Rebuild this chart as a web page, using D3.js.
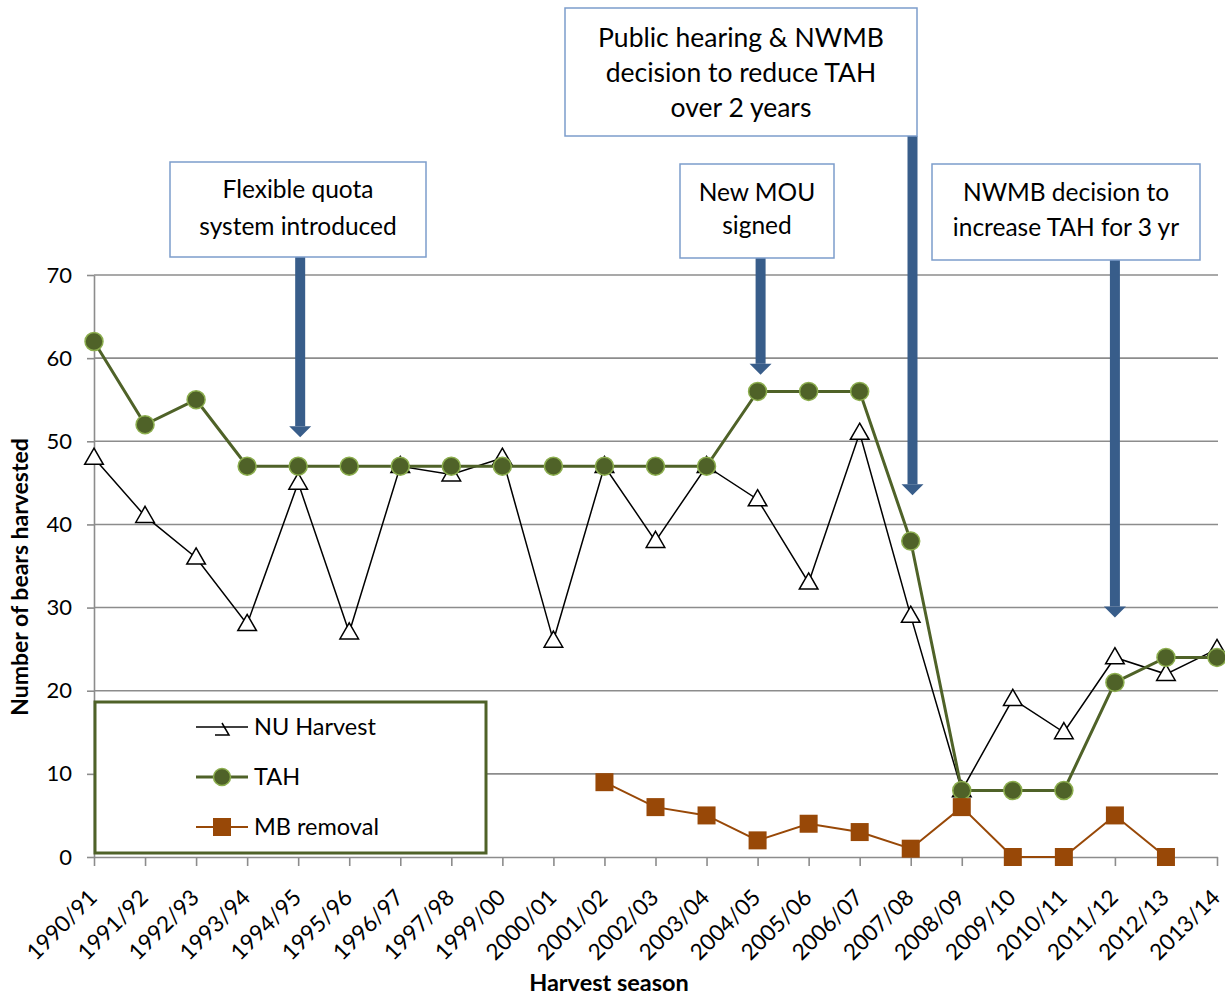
<!DOCTYPE html>
<html><head><meta charset="utf-8">
<script src="https://cdn.jsdelivr.net/npm/d3@7"></script>
<style>body{margin:0;background:#fff}svg{display:block}text{font-family:Lato,"Open Sans",sans-serif}</style>
</head><body><svg id="c" width="1225" height="998"></svg>
<script>
const categories = ["1990/91","1991/92","1992/93","1993/94","1994/95","1995/96","1996/97","1997/98","1999/00","2000/01","2001/02","2002/03","2003/04","2004/05","2005/06","2006/07","2007/08","2008/09","2009/10","2010/11","2011/12","2012/13","2013/14"];
const nuHarvest = [48,41,36,28,45,27,47,46,48,26,47,38,47,43,33,51,29,8,19,15,24,22,25];
const tah = [62,52,55,47,47,47,47,47,47,47,47,47,47,56,56,56,38,8,8,8,21,24,24];
const mbRemoval = [null,null,null,null,null,null,null,null,null,null,9,6,5,2,4,3,1,6,0,0,5,0,null];
const yTicks = [0,10,20,30,40,50,60,70];
const annotations = [
  {lines:["Flexible quota","system introduced"], cat:"1994/95", tipValue:50.5},
  {lines:["New MOU","signed"], cat:"2004/05", tipValue:58},
  {lines:["Public hearing & NWMB","decision to reduce TAH","over 2 years"], cat:"2007/08", tipValue:43.5},
  {lines:["NWMB decision to","increase TAH for 3 yr"], cat:"2011/12", tipValue:28.8}
];

const svg = d3.select("#c");
const x = d3.scalePoint().domain(categories).range([94,1217]);
const y = d3.scaleLinear().domain([0,70]).range([857,275]);

// gridlines
svg.append("g").selectAll("line").data(yTicks.filter(d=>d>0)).join("line")
  .attr("x1",94).attr("x2",1218).attr("y1",d=>y(d)).attr("y2",d=>y(d))
  .attr("stroke","#8c8c8c").attr("stroke-width",1.6);

// axes
const gx = svg.append("g").attr("transform","translate(0,857)")
  .call(d3.axisBottom(x).tickSize(9).tickSizeOuter(0));
gx.select(".domain").attr("stroke","#8c8c8c").attr("stroke-width",1.6).attr("d","M94,0.5H1218");
gx.selectAll(".tick line").attr("stroke","#8c8c8c").attr("stroke-width",1.6);
gx.selectAll(".tick text").attr("font-size",22.5).attr("fill","#000")
  .attr("text-anchor","end").attr("x",0).attr("y",0).attr("dy","0")
  .attr("transform","translate(4,42) rotate(-45)");

const gy = svg.append("g").attr("transform","translate(94,0)")
  .call(d3.axisLeft(y).tickValues(yTicks).tickSize(7).tickSizeOuter(0).tickPadding(15));
gy.select(".domain").attr("stroke","#8c8c8c").attr("stroke-width",1.6);
gy.selectAll(".tick line").attr("stroke","#8c8c8c").attr("stroke-width",1.6);
gy.selectAll(".tick text").attr("font-size",22).attr("fill","#000");

svg.append("text").attr("x",609).attr("y",991).attr("text-anchor","middle")
  .attr("font-size",23.5).attr("font-weight","bold").text("Harvest season");
svg.append("text").attr("transform","translate(28,577) rotate(-90)").attr("text-anchor","middle")
  .attr("font-size",23).attr("font-weight","bold").text("Number of bears harvested");

// series
const nuData = categories.map((c,i)=>({c,v:nuHarvest[i]}));
const tahData = categories.map((c,i)=>({c,v:tah[i]}));
const mbData = categories.map((c,i)=>({c,v:mbRemoval[i]})).filter(d=>d.v!==null);
const line = d3.line().x(d=>x(d.c)).y(d=>y(d.v));

svg.append("path").attr("d",line(nuData)).attr("fill","none").attr("stroke","#000").attr("stroke-width",1.5);
const tri = d3.symbol().type(d3.symbolTriangle).size(150);
svg.append("g").selectAll("path").data(nuData).join("path")
  .attr("d",tri).attr("transform",d=>`translate(${x(d.c)},${y(d.v)+1})`)
  .attr("fill","#fff").attr("stroke","#000").attr("stroke-width",1.5);

svg.append("path").attr("d",line(tahData)).attr("fill","none").attr("stroke","#4f6228").attr("stroke-width",3);
svg.append("g").selectAll("circle").data(tahData).join("circle")
  .attr("cx",d=>x(d.c)).attr("cy",d=>y(d.v)).attr("r",9)
  .attr("fill","#4f6228").attr("stroke","#8cae4e").attr("stroke-width",1.5);

svg.append("path").attr("d",line(mbData)).attr("fill","none").attr("stroke","#984807").attr("stroke-width",2);
svg.append("g").selectAll("rect").data(mbData).join("rect")
  .attr("x",d=>x(d.c)-9).attr("y",d=>y(d.v)-9).attr("width",18).attr("height",18)
  .attr("fill","#984807");

// annotations
const boxes = [
  {x0:170,x1:426,y0:162,y1:257,fs:24.5,base:[198,235]},
  {x0:680,x1:834,y0:164,y1:258,fs:24.5,base:[201,234]},
  {x0:565,x1:917,y0:8,y1:136,fs:26.5,base:[47,82,117]},
  {x0:932,x1:1200,y0:164,y1:260,fs:24.5,base:[201,236]}
];
annotations.forEach((a,i)=>{
  const b = boxes[i];
  const ax = i===2 ? 912.5 : x(a.cat)+ (i===0?2:(i===3?0:3));
  const tipY = y(a.tipValue);
  svg.append("rect").attr("x",ax-5).attr("y",b.y1).attr("width",10).attr("height",tipY-11-b.y1).attr("fill","#385d8a");
  svg.append("path").attr("d",`M${ax-11},${tipY-11}L${ax+11},${tipY-11}L${ax},${tipY}Z`).attr("fill","#385d8a");
  svg.append("rect").attr("x",b.x0).attr("y",b.y0).attr("width",b.x1-b.x0).attr("height",b.y1-b.y0)
    .attr("fill","#fff").attr("stroke","#7c9dcb").attr("stroke-width",1.5);
  a.lines.forEach((t,j)=>{
    svg.append("text").attr("x",(b.x0+b.x1)/2).attr("y",b.base[j]).attr("text-anchor","middle")
      .attr("font-size",b.fs).attr("fill","#000").text(t);
  });
});

// legend
const lg = svg.append("g");
lg.append("rect").attr("x",95).attr("y",702).attr("width",391).attr("height",151)
  .attr("fill","#fff").attr("stroke","#4f6228").attr("stroke-width",3);
const legendItems = [
  {name:"NU Harvest", type:"nu"},{name:"TAH", type:"tah"},{name:"MB removal", type:"mb"}
];
legendItems.forEach((it,i)=>{
  const cy = 727 + i*50, lx0=196, lx1=248, mx=222;
  if(it.type==="nu"){
    lg.append("line").attr("x1",lx0).attr("x2",lx1).attr("y1",cy).attr("y2",cy).attr("stroke","#000").attr("stroke-width",1.5);
    lg.append("path").attr("d",`M215,${cy+8}L229,${cy+8}L222,${cy-4}`).attr("fill","none").attr("stroke","#000").attr("stroke-width",1.5);
  } else if(it.type==="tah"){
    lg.append("line").attr("x1",lx0).attr("x2",lx1).attr("y1",cy).attr("y2",cy).attr("stroke","#4f6228").attr("stroke-width",3);
    lg.append("circle").attr("cx",mx).attr("cy",cy).attr("r",8.5).attr("fill","#4f6228").attr("stroke","#8cae4e").attr("stroke-width",1.5);
  } else {
    lg.append("line").attr("x1",lx0).attr("x2",lx1).attr("y1",cy).attr("y2",cy).attr("stroke","#984807").attr("stroke-width",2);
    lg.append("rect").attr("x",mx-9).attr("y",cy-9).attr("width",18).attr("height",18).attr("fill","#984807");
  }
  lg.append("text").attr("x",254).attr("y",cy+8).attr("font-size",23.5).attr("fill","#000").text(it.name);
});
</script></body></html>
